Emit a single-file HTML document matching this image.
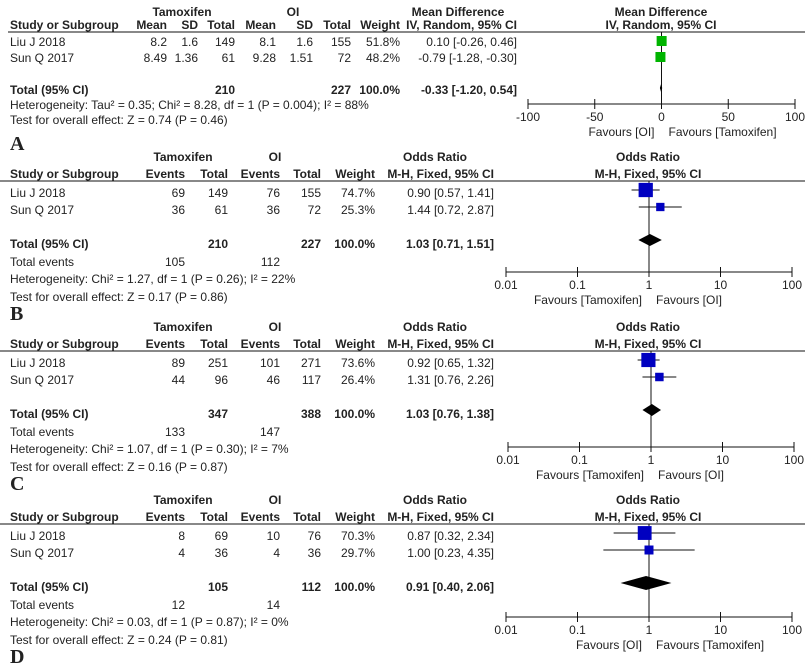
<!DOCTYPE html>
<html><head><meta charset="utf-8"><style>
html,body{margin:0;padding:0;background:#fff;}
svg{display:block;font-family:"Liberation Sans",Arial,sans-serif;}
</style></head><body>
<svg id="fig" width="805" height="671" viewBox="0 0 805 671" xmlns="http://www.w3.org/2000/svg"></svg>
<script>
// ---- data arrays ----
const panelLetters = ["A","B","C","D"];
const studies = ["Liu J 2018","Sun Q  2017"];
// Panel A (mean difference)
const aTamMean = ["8.2","8.49"], aTamSD = ["1.6","1.36"], aTamTotal = ["149","61"];
const aOIMean = ["8.1","9.28"], aOISD = ["1.6","1.51"], aOITotal = ["155","72"];
const aWeight = ["51.8%","48.2%"];
const aEst = [0.10,-0.79], aLo = [-0.26,-1.28], aHi = [0.46,-0.30];
const aCIText = ["0.10 [-0.26, 0.46]","-0.79 [-1.28, -0.30]"];
const aTotal = {est:-0.33, lo:-1.20, hi:0.54};
const aTicks = [-100,-50,0,50,100];
// Panels B, C, D (odds ratio)
const orTamEvents = [["69","36"],["89","44"],["8","4"]];
const orTamTotal = [["149","61"],["251","96"],["69","36"]];
const orOIEvents = [["76","36"],["101","46"],["10","4"]];
const orOITotal = [["155","72"],["271","117"],["76","36"]];
const orWeight = [["74.7%","25.3%"],["73.6%","26.4%"],["70.3%","29.7%"]];
const orEst = [[0.90,1.44],[0.92,1.31],[0.87,1.00]];
const orLo = [[0.57,0.72],[0.65,0.76],[0.32,0.23]];
const orHi = [[1.41,2.87],[1.32,2.26],[2.34,4.35]];
const orWeightNum = [[74.7,25.3],[73.6,26.4],[70.3,29.7]];
const orTotEst = [1.03,1.03,0.91], orTotLo = [0.71,0.76,0.40], orTotHi = [1.51,1.38,2.06];
const orSumTam = ["210","347","105"], orSumOI = ["227","388","112"];
const orTotEvTam = ["105","133","12"], orTotEvOI = ["112","147","14"];
const orHet = ["Heterogeneity: Chi\u00b2 = 1.27, df = 1 (P = 0.26); I\u00b2 = 22%","Heterogeneity: Chi\u00b2 = 1.07, df = 1 (P = 0.30); I\u00b2 = 7%","Heterogeneity: Chi\u00b2 = 0.03, df = 1 (P = 0.87); I\u00b2 = 0%"];
const orTest = ["Test for overall effect: Z = 0.17 (P = 0.86)","Test for overall effect: Z = 0.16 (P = 0.87)","Test for overall effect: Z = 0.24 (P = 0.81)"];
const orFavL = ["Favours [Tamoxifen]","Favours [Tamoxifen]","Favours [OI]"];
const orFavR = ["Favours [OI]","Favours [OI]","Favours [Tamoxifen]"];
const orTicks = [0.01,0.1,1,10,100];
const orTickLabels = ["0.01","0.1","1","10","100"];

// ---- helpers ----
const S = document.getElementById('fig');
const NS = "http://www.w3.org/2000/svg";
function el(tag, attrs, parent){const e=document.createElementNS(NS,tag);for(const k in attrs)e.setAttribute(k,attrs[k]);(parent||S).appendChild(e);return e;}
function txt(x,y,s,anchor,bold,name,size,fam){
  const t=el('text',{x:x,y:y,'font-size':size||12,fill:'#222','text-anchor':anchor||'start'});
  if(bold)t.setAttribute('font-weight','bold');
  if(fam)t.setAttribute('font-family',fam);
  t.textContent=s;
  
  
  return t;
}
function line(x1,y1,x2,y2,name,w){
  const l=el('line',{x1:x1,y1:y1,x2:x2,y2:y2,stroke:'#111','stroke-width':w||1});
  
  
  return l;
}
function axis(y,x0,x1,ticks,scale,labels,favL,favR,refX,topY){
  line(refX,topY,refX,y,'no-effect-line');
  line(x0,y,x1,y,'x-axis');
  ticks.forEach((t,i)=>{const x=scale(t);line(x,y-5,x,y+5,'x-tick');txt(x,y+17,labels[i],'middle',false,'x-tick-label');});
  txt(refX-7,y+32,favL,'end',false,'favours-left-label');
  txt(refX+7,y+32,favR,'start',false,'favours-right-label');
}
function square(cx,cy,s,color){
  const r=el('rect',{x:cx-s/2,y:cy-s/2,width:s,height:s,fill:color});
  
  
}
function diamond(xl,xc,xr,cy,h){
  const p=el('polygon',{points:`${xl},${cy} ${xc},${cy-h} ${xr},${cy} ${xc},${cy+h}`,fill:'#000'});
  
  
}

// ---- Panel A ----
(function(){
  const L=32;
  txt(182,16,'Tamoxifen','middle',true,'group-header-tamoxifen');
  txt(293,16,'OI','middle',true,'group-header-oi');
  txt(458,16,'Mean Difference','middle',true,'effect-header');
  txt(661,16,'Mean Difference','middle',true,'plot-header');
  const hy=29;
  txt(10,hy,'Study or Subgroup','start',true,'col-study');
  [[167,'Mean'],[198,'SD'],[235,'Total'],[276,'Mean'],[313,'SD'],[351,'Total'],[400,'Weight'],[517,'IV, Random, 95% CI']].forEach(c=>txt(c[0],hy,c[1],'end',true,'col-header'));
  txt(661,hy,'IV, Random, 95% CI','middle',true,'plot-subheader');
  line(8,L,805,L,'header-rule');
  const ys=[46,62];
  studies.forEach((s,i)=>{
    txt(10,ys[i],s,'start',false,'study-name');
    txt(167,ys[i],aTamMean[i],'end',false,'tam-mean');
    txt(198,ys[i],aTamSD[i],'end',false,'tam-sd');
    txt(235,ys[i],aTamTotal[i],'end',false,'tam-total');
    txt(276,ys[i],aOIMean[i],'end',false,'oi-mean');
    txt(313,ys[i],aOISD[i],'end',false,'oi-sd');
    txt(351,ys[i],aOITotal[i],'end',false,'oi-total');
    txt(400,ys[i],aWeight[i],'end',false,'weight');
    txt(517,ys[i],aCIText[i],'end',false,'md-ci');
  });
  txt(10,94,'Total (95% CI)','start',true,'total-label');
  txt(235,94,'210','end',true,'tam-sum');
  txt(351,94,'227','end',true,'oi-sum');
  txt(400,94,'100.0%','end',true,'weight-sum');
  txt(517,94,'-0.33 [-1.20, 0.54]','end',true,'pooled-ci');
  txt(10,109,'Heterogeneity: Tau\u00b2 = 0.35; Chi\u00b2 = 8.28, df = 1 (P = 0.004); I\u00b2 = 88%','start',false,'heterogeneity');
  txt(10,124,'Test for overall effect: Z = 0.74 (P = 0.46)','start',false,'overall-effect');
  const x0=528,x1=795,ay=104;
  const sc=v=>x0+(v+100)/200*(x1-x0);
  axis(ay,x0,x1,aTicks,sc,aTicks.map(String),'Favours [OI]','Favours [Tamoxifen]',sc(0),L);
  const cys=[41,57];
  studies.forEach((s,i)=>{line(sc(aLo[i]),cys[i],sc(aHi[i]),cys[i],'ci-line');square(sc(aEst[i]),cys[i],10,'#00b400');});
  diamond(sc(aTotal.lo),sc(aTotal.est),sc(aTotal.hi),88,4);
  txt(10,150,'A','start',true,'panel-label-a',20,'"Liberation Serif",serif');
})();

// ---- Panels B, C, D ----
const rules=[181,351,524], axY=[272,447,617], axX0=[506,508,506], axX1=[792,794,792];
for(let p=0;p<3;p++){
  const L=rules[p];
  txt(183,L-20,'Tamoxifen','middle',true,'group-header-tamoxifen');
  txt(275,L-20,'OI','middle',true,'group-header-oi');
  txt(435,L-20,'Odds Ratio','middle',true,'effect-header');
  txt(648,L-20,'Odds Ratio','middle',true,'plot-header');
  const hy=L-3;
  txt(10,hy,'Study or Subgroup','start',true,'col-study');
  [[185,'Events'],[228,'Total'],[280,'Events'],[321,'Total'],[375,'Weight'],[494,'M-H, Fixed, 95% CI']].forEach(c=>txt(c[0],hy,c[1],'end',true,'col-header'));
  txt(648,hy,'M-H, Fixed, 95% CI','middle',true,'plot-subheader');
  line(0,L,805,L,'header-rule');
  const ys=[L+16,L+33];
  studies.forEach((s,i)=>{
    txt(10,ys[i],s,'start',false,'study-name');
    txt(185,ys[i],orTamEvents[p][i],'end',false,'tam-events');
    txt(228,ys[i],orTamTotal[p][i],'end',false,'tam-total');
    txt(280,ys[i],orOIEvents[p][i],'end',false,'oi-events');
    txt(321,ys[i],orOITotal[p][i],'end',false,'oi-total');
    txt(375,ys[i],orWeight[p][i],'end',false,'weight');
    txt(494,ys[i],orEst[p][i].toFixed(2)+' ['+orLo[p][i].toFixed(2)+', '+orHi[p][i].toFixed(2)+']','end',false,'or-ci');
  });
  txt(10,L+67,'Total (95% CI)','start',true,'total-label');
  txt(228,L+67,orSumTam[p],'end',true,'tam-sum');
  txt(321,L+67,orSumOI[p],'end',true,'oi-sum');
  txt(375,L+67,'100.0%','end',true,'weight-sum');
  txt(494,L+67,orTotEst[p].toFixed(2)+' ['+orTotLo[p].toFixed(2)+', '+orTotHi[p].toFixed(2)+']','end',true,'pooled-ci');
  txt(10,L+85,'Total events','start',false,'total-events-label');
  txt(185,L+85,orTotEvTam[p],'end',false,'tam-total-events');
  txt(280,L+85,orTotEvOI[p],'end',false,'oi-total-events');
  txt(10,L+102,orHet[p],'start',false,'heterogeneity');
  txt(10,L+120,orTest[p],'start',false,'overall-effect');
  const x0=axX0[p],x1=axX1[p],ay=axY[p];
  const sc=v=>x0+(Math.log10(v)+2)/4*(x1-x0);
  axis(ay,x0,x1,orTicks,sc,orTickLabels,orFavL[p],orFavR[p],sc(1),L);
  const cys=[L+9,L+26];
  studies.forEach((s,i)=>{
    line(sc(orLo[p][i]),cys[i],sc(orHi[p][i]),cys[i],'ci-line');
    square(sc(orEst[p][i]),cys[i],Math.sqrt(orWeightNum[p][i])*1.65,'#0000c0');
  });
  diamond(sc(orTotLo[p]),sc(orTotEst[p]),sc(orTotHi[p]),L+59,p===2?7:6);
  txt(10,L+139,panelLetters[p+1],'start',true,'panel-label-'+panelLetters[p+1].toLowerCase(),20,'"Liberation Serif",serif');
}
</script>
</body></html>
